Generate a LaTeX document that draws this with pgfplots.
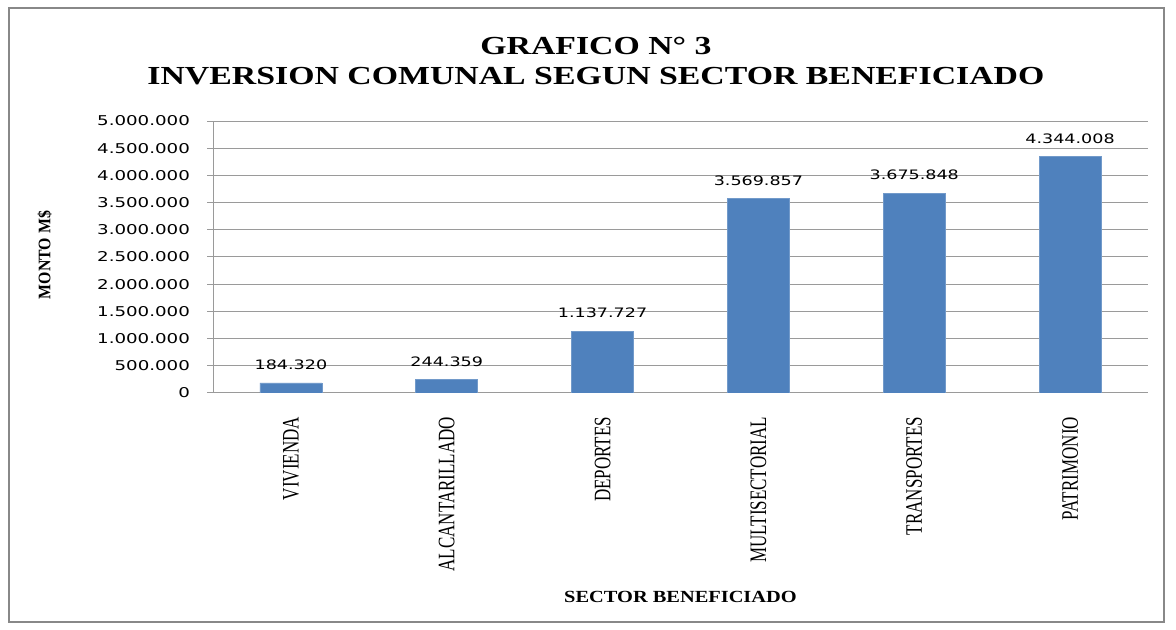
\documentclass[border=0pt]{standalone}
\usepackage{fontspec}
\setmainfont{Liberation Serif}
\newfontfamily\titlefont{Liberation Serif}[FakeStretch=1.3]
\newfontfamily\labfont{Liberation Serif}[FakeStretch=1.2]
\newfontfamily\ylabfont{Liberation Serif}[FakeStretch=0.9]
\newfontfamily\catfont{Liberation Serif}[FakeStretch=0.72]
\newfontfamily\numfont{DejaVu Sans}[FakeStretch=1.35]
\usepackage{pgfplots}
\pgfplotsset{compat=1.18}
\definecolor{barblue}{HTML}{4F81BD}
\definecolor{gridgray}{HTML}{9A9A9A}
\definecolor{framegray}{HTML}{888888}

\begin{document}
\begin{tikzpicture}
\path (0pt,0pt) rectangle (588pt,315pt);
\draw[framegray, line width=1pt] (4.5pt,4pt) rectangle (582pt,311pt);
\begin{axis}[
    at={(106.5pt,118.5pt)}, anchor=south west,
    scale only axis,
    width=467.5pt, height=136pt,
    xmin=-0.5, xmax=5.5,
    ymin=0, ymax=5000000,
    ytick distance=500000,
    scaled y ticks=false,
    axis lines=left,
    axis line style={-, gridgray, line width=0.5pt},
    ymajorgrids,
    grid style={gridgray, line width=0.5pt},
    tick align=outside,
    major tick length=3pt,
    major tick style={gridgray, line width=0.5pt},
    xtick=data,
    xticklabels={VIVIENDA, ALCANTARILLADO, DEPORTES, MULTISECTORIAL, TRANSPORTES, PATRIMONIO},
    x tick style={draw=none},
    xticklabel style={rotate=90, anchor=east, xshift=-5.5pt, font=\catfont\fontsize{11.8}{12}\selectfont},
    yticklabel style={font=\numfont\fontsize{6.75}{8}\selectfont, xshift=-5pt},
    /pgf/number format/.cd, fixed, precision=0, 1000 sep={.}, assume math mode=true,
    /pgfplots/.cd,
    xlabel={SECTOR BENEFICIADO},
    xlabel style={at={(axis description cs:0.5,-0.75)}, anchor=center, font=\labfont\bfseries\fontsize{8.5}{10}\selectfont},
    ylabel={MONTO M\$},
    ylabel style={at={(axis description cs:-0.18,0.507)}, anchor=center, font=\ylabfont\bfseries\fontsize{8.8}{10}\selectfont},
    title={GRAFICO N° 3\\INVERSION COMUNAL SEGUN SECTOR BENEFICIADO},
    title style={at={(axis description cs:0.4096,1.176)}, anchor=center, align=center, font=\titlefont\bfseries\fontsize{13}{15}\selectfont},
    ybar,
    bar width=31pt,
    point meta=explicit symbolic,
    nodes near coords,
    nodes near coords style={font=\numfont\fontsize{6.5}{8}\selectfont, anchor=south, yshift=3pt, black},
]
\addplot[fill=barblue, draw=barblue!80!white, line width=0.3pt] coordinates {
    (0,184320) [184.320]
    (1,244359) [244.359]
    (2,1137727) [1.137.727]
    (3,3569857) [3.569.857]
    (4,3675848) [3.675.848]
    (5,4344008) [4.344.008]
};
\end{axis}
\end{tikzpicture}
\end{document}
